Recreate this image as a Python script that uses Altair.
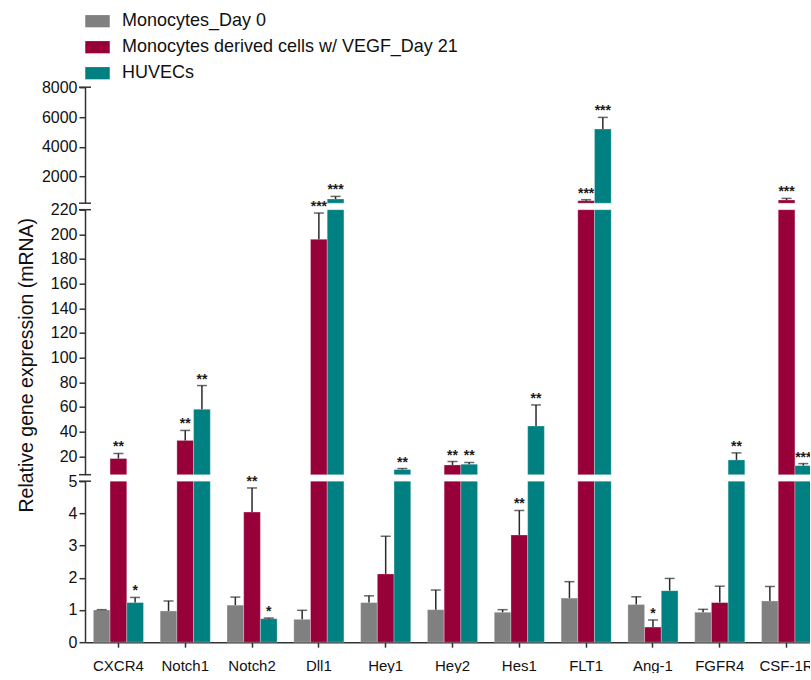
import altair as alt
import pandas as pd

genes = ["CXCR4", "Notch1", "Notch2", "Dll1", "Hey1", "Hey2", "Hes1", "FLT1", "Ang-1", "FGFR4", "CSF-1R"]
series_names = ["Monocytes_Day 0", "Monocytes derived cells w/ VEGF_Day 21", "HUVECs"]
series_colors = ["#808080", "#98003a", "#008080"]

mono_day0 = [1.00, 0.97, 1.15, 0.71, 1.23, 1.01, 0.93, 1.37, 1.17, 0.93, 1.28]
mono_day0_err = [0.01, 0.31, 0.25, 0.28, 0.21, 0.61, 0.08, 0.51, 0.24, 0.09, 0.45]
mono_day0_sig = ["", "", "", "", "", "", "", "", "", "", ""]

vegf_day21 = [18.1, 32.8, 4.04, 196.0, 2.12, 12.9, 3.33, 388.0, 0.47, 1.23, 435.0]
vegf_day21_err = [4.1, 8.1, 0.75, 21.3, 1.17, 2.8, 0.76, 67.0, 0.22, 0.51, 105.0]
vegf_day21_sig = ["**", "**", "**", "***", "", "**", "**", "***", "*", "", "***"]

huvec = [1.23, 58.1, 0.73, 502.0, 9.2, 13.5, 44.5, 5197.0, 1.60, 17.0, 12.4]
huvec_err = [0.16, 19.2, 0.02, 174.0, 0.8, 1.4, 17.1, 778.0, 0.38, 5.7, 1.6]
huvec_sig = ["*", "**", "*", "***", "**", "**", "**", "***", "", "**", "***"]

# broken y axis segments: (low, high, panel height, tick values)
segments = [
    (220, 8000, 116, [2000, 4000, 6000, 8000]),
    (5, 220, 265, list(range(20, 221, 20))),
    (0, 5, 161, [0, 1, 2, 3, 4, 5]),
]

rows = []
for name, vals, errs, sigs in zip(
    series_names,
    [mono_day0, vegf_day21, huvec],
    [mono_day0_err, vegf_day21_err, huvec_err],
    [mono_day0_sig, vegf_day21_sig, huvec_sig],
):
    for g, v, e, s in zip(genes, vals, errs, sigs):
        rows.append({"gene": g, "series": name, "value": v, "err": e, "sig": s})
df = pd.DataFrame(rows)
df["cap"] = df["value"] + df["err"]

FONT = "Liberation Sans"
INK = "#2a2a2a"
W = 735


def panel(idx, lo, hi, h, ticks):
    base = alt.Chart(df)
    is_bottom = idx == len(segments) - 1
    xaxis = (
        alt.Axis(title=None, labelAngle=0, labelFontSize=15, tickSize=5, labelPadding=11,
                 domainWidth=1.5, tickWidth=1.5, labelColor="#111")
        if is_bottom else None
    )
    x = alt.X("gene:N", sort=genes,
              scale=alt.Scale(domain=genes, paddingInner=0.25, paddingOuter=0.125), axis=xaxis)
    xo = alt.XOffset("series:N", sort=series_names, scale=alt.Scale(domain=series_names))
    ys = alt.Scale(domain=[lo, hi], nice=False, zero=False)
    if idx == 1:
        yaxis = alt.Axis(values=ticks, format="d", title="Relative gene expression (mRNA)",
                         titleFontSize=19.5, titleFontWeight="normal", titleAngle=270,
                         titleBaseline="bottom", titleAlign="center", titleX=-49, titleY=155,
                         titleColor="#111", labelOverlap=False)
    else:
        yaxis = alt.Axis(values=ticks, format="d", title=None, labelOverlap=False)
    if idx == 0:
        legend = alt.Legend(title=None, orient="none", legendX=0, legendY=-78.5,
                            symbolType="M-1,-0.5H1V0.5H-1Z", symbolSize=600,
                            symbolStrokeWidth=0, labelFontSize=18, labelFont=FONT,
                            labelOffset=12, rowPadding=4, labelLimit=700, labelColor="#111")
    else:
        legend = None
    color = alt.Color("series:N", sort=series_names,
                      scale=alt.Scale(domain=series_names, range=series_colors), legend=legend)

    def yy(field):
        return alt.Y(field, type="quantitative", scale=ys, axis=yaxis)

    bars = (
        base.transform_filter(f"datum.value > {lo}")
        .transform_calculate(top=f"min(datum.value, {hi})")
        .mark_bar(stroke="white", strokeWidth=0.4, strokeOpacity=0.7)
        .encode(x=x, xOffset=xo, y=yy("top"), y2=alt.datum(lo), color=color)
    )
    rules = (
        base.transform_filter(f"datum.value > {lo} && datum.value < {hi}")
        .transform_calculate(etop=f"min(datum.cap, {hi})")
        .mark_rule(color=INK, strokeWidth=1.5)
        .encode(x=x, xOffset=xo, y=yy("value"), y2="etop:Q")
    )
    caps = (
        base.transform_filter(f"datum.cap > {lo} && datum.cap <= {hi}")
        .mark_tick(color=INK, thickness=1.5, size=10)
        .encode(x=x, xOffset=xo, y=yy("cap"))
    )
    stars = (
        base.transform_filter(f"datum.sig != '' && datum.cap > {lo} && datum.cap <= {hi}")
        .mark_text(font=FONT, fontSize=14, fontWeight="bold", baseline="alphabetic",
                   dy=-2, color="#1a1a1a")
        .encode(x=x, xOffset=xo, y=yy("cap"), text="sig:N")
    )
    layers = [bars, rules, caps, stars]
    one = pd.DataFrame({"k": [0]})
    top_brk = alt.Chart(one).mark_rule(color="#333", strokeWidth=1.5).encode(
        x=alt.value(-6), x2=alt.value(6), y=alt.value(0))
    layers.append(top_brk)
    if not is_bottom:
        bot_brk = alt.Chart(one).mark_rule(color="#333", strokeWidth=1.5).encode(
            x=alt.value(-6), x2=alt.value(6), y=alt.value(h))
        layers.append(bot_brk)
    return alt.layer(*layers).properties(width=W, height=h)


charts = [panel(i, *seg) for i, seg in enumerate(segments)]

chart = (
    alt.vconcat(*charts, spacing=6.5, bounds="flush")
    .resolve_scale(xOffset="independent", x="independent", y="independent")
    .resolve_legend(color="independent")
    .properties(padding={"left": 15, "top": 8.2, "right": -10, "bottom": 0})
    .configure_view(stroke=None)
    .configure_axis(labelFont=FONT, titleFont=FONT, labelFontSize=16, labelColor="#111",
                    domainColor="#333", tickColor="#333", domainWidth=1.5, tickWidth=1.5,
                    tickSize=6, labelPadding=2, grid=False, labelOverlap=False)
)

chart.save("out.html", embed_options={"renderer": "svg", "actions": False})
